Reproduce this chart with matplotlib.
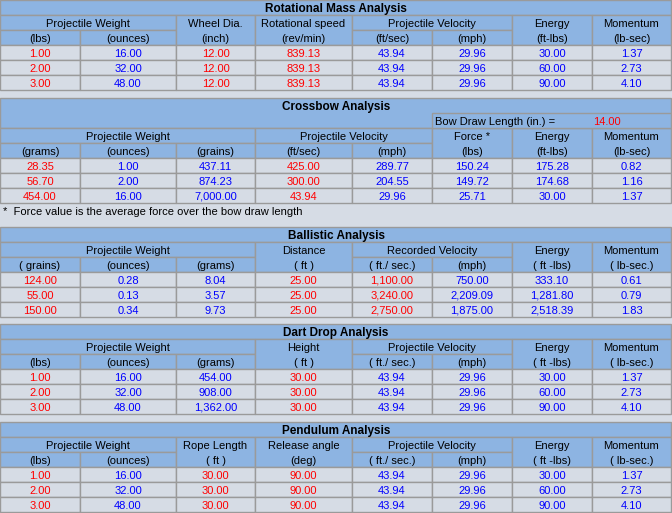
import matplotlib
matplotlib.use("Agg")
import matplotlib.pyplot as plt
from matplotlib.patches import Rectangle

# Column edges (px) shared by every table
col_edges = [0, 80, 176, 255, 352, 432, 512, 592, 671]

# --- Rotational Mass Analysis ---
rot_lbs = [1.00, 2.00, 3.00]
rot_ounces = [16.00, 32.00, 48.00]
rot_wheel = [12.00, 12.00, 12.00]
rot_rpm = [839.13, 839.13, 839.13]
rot_ftsec = [43.94, 43.94, 43.94]
rot_mph = [29.96, 29.96, 29.96]
rot_energy = [30.00, 60.00, 90.00]
rot_momentum = [1.37, 2.73, 4.10]

# --- Crossbow Analysis ---
cb_grams = [28.35, 56.70, 454.00]
cb_ounces = [1.00, 2.00, 16.00]
cb_grains = [437.11, 874.23, 7000.00]
cb_ftsec = [425.00, 300.00, 43.94]
cb_mph = [289.77, 204.55, 29.96]
cb_force = [150.24, 149.72, 25.71]
cb_energy = [175.28, 174.68, 30.00]
cb_momentum = [0.82, 1.16, 1.37]
bow_draw = 14.00

# --- Ballistic Analysis ---
bal_grains = [124.00, 55.00, 150.00]
bal_ounces = [0.28, 0.13, 0.34]
bal_grams = [8.04, 3.57, 9.73]
bal_distance = [25.00, 25.00, 25.00]
bal_ftsec = [1100.00, 3240.00, 2750.00]
bal_mph = [750.00, 2209.09, 1875.00]
bal_energy = [333.10, 1281.80, 2518.39]
bal_momentum = [0.61, 0.79, 1.83]

# --- Dart Drop Analysis ---
dd_lbs = [1.00, 2.00, 3.00]
dd_ounces = [16.00, 32.00, 48.00]
dd_grams = [454.00, 908.00, 1362.00]
dd_height = [30.00, 30.00, 30.00]
dd_ftsec = [43.94, 43.94, 43.94]
dd_mph = [29.96, 29.96, 29.96]
dd_energy = [30.00, 60.00, 90.00]
dd_momentum = [1.37, 2.73, 4.10]

# --- Pendulum Analysis ---
pen_lbs = [1.00, 2.00, 3.00]
pen_ounces = [16.00, 32.00, 48.00]
pen_rope = [30.00, 30.00, 30.00]
pen_angle = [90.00, 90.00, 90.00]
pen_ftsec = [43.94, 43.94, 43.94]
pen_mph = [29.96, 29.96, 29.96]
pen_energy = [30.00, 60.00, 90.00]
pen_momentum = [1.37, 2.73, 4.10]

# colours
HDR = "#8DB4E2"
BG = "#D6DCE5"
EDGE = "#9A9A9A"
RED = "#FF0000"
BLUE = "#0000FF"
FONT = "Liberation Sans"
FS = 8.0
ROW = 15

fig = plt.figure(figsize=(6.72, 5.13), dpi=100, facecolor=BG)
ax = fig.add_axes([0, 0, 1, 1])
ax.set_xlim(0, 672)
ax.set_ylim(513, 0)
ax.axis("off")


def cell(x0, x1, y0, y1, fc):
    ax.add_patch(Rectangle((x0, y0), x1 - x0, y1 - y0, facecolor=fc,
                           edgecolor=EDGE, lw=1.0))


def txt(x, y, s, color="black", ha="center", bold=False, size=FS):
    # baseline placed so capitals sit centred in the row whatever the glyphs
    ax.text(x, y + 4.2, s, ha=ha, va="baseline", color=color, fontsize=size,
            fontfamily=FONT, fontweight="bold" if bold else "normal")


def section(top, title, groups, columns, colors, title_rows=1):
    # title
    cell(col_edges[0], col_edges[-1], top, top + ROW * title_rows, HDR)
    txt(336, top + ROW / 2, title, bold=True, size=8.5)
    y = top + ROW * title_rows
    # header groups
    c = 0
    for label, units in groups:
        x0, x1 = col_edges[c], col_edges[c + len(units)]
        if len(units) == 1:
            cell(x0, x1, y, y + 2 * ROW, HDR)
            txt((x0 + x1) / 2, y + ROW / 2, label)
            txt((x0 + x1) / 2, y + ROW * 1.5, units[0])
        else:
            cell(x0, x1, y, y + ROW, HDR)
            txt((x0 + x1) / 2, y + ROW / 2, label)
            for k, u in enumerate(units):
                a, b = col_edges[c + k], col_edges[c + k + 1]
                cell(a, b, y + ROW, y + 2 * ROW, HDR)
                txt((a + b) / 2, y + ROW * 1.5, u)
        c += len(units)
    y += 2 * ROW
    # data rows
    for r in range(len(columns[0])):
        for k, vals in enumerate(columns):
            a, b = col_edges[k], col_edges[k + 1]
            cell(a, b, y, y + ROW, BG)
            txt((a + b) / 2, y + ROW / 2, f"{vals[r]:,.2f}", color=colors[k])
        y += ROW
    return y


R, B = RED, BLUE

section(0, "Rotational Mass Analysis",
        [("Projectile Weight", ["(lbs)", "(ounces)"]), ("Wheel Dia.", ["(inch)"]),
         ("Rotational speed", ["(rev/min)"]),
         ("Projectile Velocity", ["(ft/sec)", "(mph)"]),
         ("Energy", ["(ft-lbs)"]), ("Momentum", ["(lb-sec)"])],
        [rot_lbs, rot_ounces, rot_wheel, rot_rpm, rot_ftsec, rot_mph, rot_energy, rot_momentum],
        [R, B, R, R, B, B, B, B])

end = section(98, "Crossbow Analysis",
              [("Projectile Weight", ["(grams)", "(ounces)", "(grains)"]),
               ("Projectile Velocity", ["(ft/sec)", "(mph)"]),
               ("Force *", ["(lbs)"]), ("Energy", ["(ft-lbs)"]), ("Momentum", ["(lb-sec)"])],
              [cb_grams, cb_ounces, cb_grains, cb_ftsec, cb_mph, cb_force, cb_energy, cb_momentum],
              [R, B, B, R, B, B, B, B], title_rows=2)
cell(432, 671, 98 + ROW, 98 + 2 * ROW, HDR)
txt(435, 98 + ROW * 1.5, "Bow Draw Length (in.) =", ha="left")
txt(607, 98 + ROW * 1.5, f"{bow_draw:.2f}", color=RED)
txt(3, end + 8, "*  Force value is the average force over the bow draw length", ha="left")

section(227, "Ballistic Analysis",
        [("Projectile Weight", ["( grains)", "(ounces)", "(grams)"]),
         ("Distance", ["( ft )"]),
         ("Recorded Velocity", ["( ft./ sec.)", "(mph)"]),
         ("Energy", ["( ft -lbs)"]), ("Momentum", ["( lb-sec.)"])],
        [bal_grains, bal_ounces, bal_grams, bal_distance, bal_ftsec, bal_mph, bal_energy, bal_momentum],
        [R, B, B, R, R, B, B, B])

section(324, "Dart Drop Analysis",
        [("Projectile Weight", ["(lbs)", "(ounces)", "(grams)"]),
         ("Height", ["( ft )"]),
         ("Projectile Velocity", ["( ft./ sec.)", "(mph)"]),
         ("Energy", ["( ft -lbs)"]), ("Momentum", ["( lb-sec.)"])],
        [dd_lbs, dd_ounces, dd_grams, dd_height, dd_ftsec, dd_mph, dd_energy, dd_momentum],
        [R, B, B, R, B, B, B, B])

section(422, "Pendulum Analysis",
        [("Projectile Weight", ["(lbs)", "(ounces)"]), ("Rope Length", ["( ft )"]),
         ("Release angle", ["(deg)"]),
         ("Projectile Velocity", ["( ft./ sec.)", "(mph)"]),
         ("Energy", ["( ft -lbs)"]), ("Momentum", ["( lb-sec.)"])],
        [pen_lbs, pen_ounces, pen_rope, pen_angle, pen_ftsec, pen_mph, pen_energy, pen_momentum],
        [R, B, R, R, B, B, B, B])

fig.savefig("out.png", dpi=100, facecolor=BG)
